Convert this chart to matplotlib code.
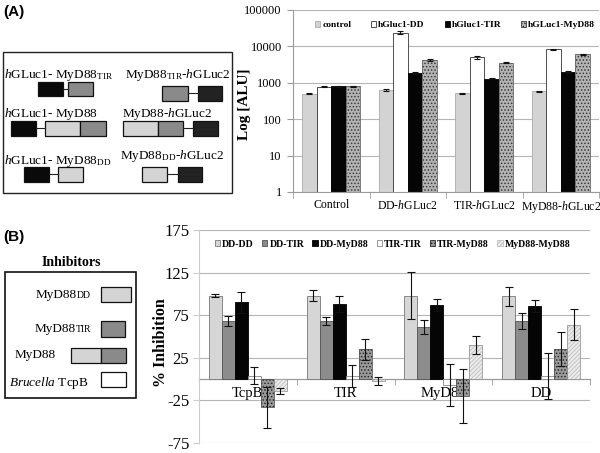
import matplotlib
matplotlib.use('Agg')
import matplotlib.pyplot as plt
import matplotlib.transforms as mtransforms
from matplotlib.patches import Rectangle
from matplotlib.ticker import FixedLocator, NullLocator
import numpy as np

plt.rcParams['mathtext.fontset'] = 'custom'
plt.rcParams['mathtext.rm'] = 'Liberation Serif'
plt.rcParams['mathtext.it'] = 'Liberation Serif:italic'
plt.rcParams['mathtext.bf'] = 'Liberation Serif:bold'
plt.rcParams['hatch.linewidth'] = 0.7

SERIF = 'Liberation Serif'
SANS = 'Liberation Sans'

# ---------------- data: panel A ----------------
a_categories = ['Control', r'DD-$\it{h}$GLuc2', r'TIR-$\it{h}$GLuc2', r'MyD88-$\it{h}$GLuc2']
a_series = ['control', 'hGluc1-DD', 'hGluc1-TIR', 'hGLuc1-MyD88']
a_control = [500, 650, 520, 580]
a_hgluc1_dd = [780, 24000, 5000, 8300]
a_hgluc1_tir = [800, 1900, 1300, 2000]
a_hgluc1_myd88 = [800, 4200, 3600, 6000]
a_control_err = [15, 40, 15, 30]
a_hgluc1_dd_err = [20, 1800, 500, 200]
a_hgluc1_tir_err = [30, 100, 60, 100]
a_hgluc1_myd88_err = [20, 200, 150, 200]
a_yticks = [1, 10, 100, 1000, 10000, 100000]

# ---------------- data: panel B ----------------
b_categories = ['TcpB', 'TIR', 'MyD88', 'DD']
b_series = ['DD-DD', 'DD-TIR', 'DD-MyD88', 'TIR-TIR', 'TIR-MyD88', 'MyD88-MyD88']
b_dd_dd = [98, 98, 98, 97]
b_dd_tir = [68, 68, 61, 68]
b_dd_myd88 = [90, 88, 87, 86]
b_tir_tir = [4, 4, -7, 4]
b_tir_myd88 = [-33, 35, -20, 35]
b_myd88_myd88 = [-14, -2, 40, 64]
b_dd_dd_err = [2, 6, 28, 11]
b_dd_tir_err = [6, 5, 8, 9]
b_dd_myd88_err = [12, 9, 7, 7]
b_tir_tir_err = [10, 13, 25, 27]
b_tir_myd88_err = [24, 12, 32, 20]
b_myd88_myd88_err = [3, 5, 11, 18]
b_yticks = [-75, -25, 25, 75, 125, 175]

W, H = 600, 453
fig = plt.figure(figsize=(W / 100, H / 100), dpi=100)


def rect(l, t, r, b):
    return [l / W, 1 - b / H, (r - l) / W, (b - t) / H]


# overlay for schematics / panel letters
ov = fig.add_axes([0, 0, 1, 1])
ov.set_xlim(0, W)
ov.set_ylim(H, 0)
ov.axis('off')

ov.text(3, 12, '(A)', fontfamily=SANS, fontweight='bold', fontsize=11, va='center', ha='left')
ov.text(3, 237, '(B)', fontfamily=SANS, fontweight='bold', fontsize=11, va='center', ha='left')

C_BLACK = '#0a0a0a'
C_DARK = '#222222'
C_TIR = '#8a8a8a'
C_DD = '#d4d4d4'


def box(x0, x1, y0, y1, fc, lw=0.9):
    ov.add_patch(Rectangle((x0, y0), x1 - x0, y1 - y0, facecolor=fc, edgecolor='#111111', lw=lw))


def link(x0, x1, y):
    ov.plot([x0, x1], [y, y], color='#222222', lw=0.8)


# panel A schematic frame
ov.add_patch(Rectangle((3, 52), 229, 141, facecolor='none', edgecolor='#222222', lw=1.0))
fs_s = 9.5
ov.text(4, 75, r'$\it{h}$GLuc1- MyD88$_{\rm TIR}$', fontfamily=SERIF, fontsize=fs_s, va='center')
box(38, 63, 82, 96, C_BLACK); link(63, 68, 89); box(68, 93, 82, 96, C_TIR)
ov.text(125, 75, r'MyD88$_{\rm TIR}$-$\it{h}$GLuc2', fontfamily=SERIF, fontsize=fs_s, va='center')
box(162, 188, 86, 101, C_TIR); link(188, 198, 93); box(198, 222, 86, 101, C_DARK)
ov.text(4, 114, r'$\it{h}$GLuc1- MyD88', fontfamily=SERIF, fontsize=fs_s, va='center')
box(11, 36, 121, 136, C_BLACK); link(36, 45, 128); box(45, 80, 121, 136, C_DD); box(80, 106, 121, 136, C_TIR)
ov.text(122, 114, r'MyD88-$\it{h}$GLuc2', fontfamily=SERIF, fontsize=fs_s, va='center')
box(123, 158, 121, 136, C_DD); box(158, 183, 121, 136, C_TIR); link(183, 193, 128); box(193, 218, 121, 136, C_DARK)
ov.text(4, 161, r'$\it{h}$GLuc1- MyD88$_{\rm DD}$', fontfamily=SERIF, fontsize=fs_s, va='center')
box(24, 49, 167, 182, C_BLACK); link(49, 58, 174); box(58, 83, 167, 182, C_DD)
ov.text(120, 156, r'MyD88$_{\rm DD}$-$\it{h}$GLuc2', fontfamily=SERIF, fontsize=fs_s, va='center')
box(142, 167, 167, 182, C_DD); link(167, 178, 174); box(178, 202, 167, 182, C_DARK)

# panel B inhibitors box
ov.text(71, 262, 'Inhibitors', fontfamily=SERIF, fontweight='bold', fontsize=10, va='center', ha='center')
ov.add_patch(Rectangle((5, 272), 131, 126, facecolor='none', edgecolor='#111111', lw=1.2))
ov.text(77, 295, 'MyD88', fontfamily=SERIF, fontsize=9.5, va='center', ha='right')
ov.text(77, 296, 'DD', fontfamily=SERIF, fontsize=7, va='center', ha='left')
box(101, 131, 287, 302, C_DD)
ov.text(76, 329, 'MyD88', fontfamily=SERIF, fontsize=9.5, va='center', ha='right')
ov.text(76, 330, 'TIR', fontfamily=SERIF, fontsize=7, va='center', ha='left')
box(101, 125, 321, 337, C_TIR)
ov.text(15, 355, 'MyD88', fontfamily=SERIF, fontsize=9.5, va='center', ha='left')
box(71, 101, 348, 363, C_DD); box(101, 126, 348, 363, C_TIR)
ov.text(9, 383, r'$\it{Brucella}$ TcpB', fontfamily=SERIF, fontsize=9.5, va='center', ha='left')
box(101, 126, 372, 387, 'white')

GRID = '#b5b5b5'
SPINE = '#9a9a9a'


def styled_bars(ax, x, h, w, err, fc, hatch=None, hatch_color=None, edge='#555555', cap=2):
    if hatch:
        ax.bar(x, h, w, facecolor=fc, edgecolor=hatch_color, hatch=hatch, lw=0, zorder=2)
        ax.bar(x, h, w, facecolor='none', edgecolor=edge, lw=0.6, zorder=3)
        handle = Rectangle((0, 0), 1, 1, facecolor=fc, edgecolor=hatch_color, hatch=hatch, lw=0.6)
    else:
        ax.bar(x, h, w, facecolor=fc, edgecolor=edge, lw=0.6, zorder=2)
        handle = Rectangle((0, 0), 1, 1, facecolor=fc, edgecolor=edge, lw=0.6)
    ax.errorbar(x, h, yerr=err, fmt='none', ecolor='#111111', elinewidth=0.8, capsize=cap, capthick=0.8, zorder=4)
    return handle


# ---------------- panel A chart ----------------
axA = fig.add_axes(rect(293, 10, 599, 192))
axA.set_yscale('log')
axA.set_ylim(1, 100000)
axA.set_xlim(-0.5, 3.5)
nA = len(a_categories)
xa = np.arange(nA)
wa = 0.19
a_vals = [a_control, a_hgluc1_dd, a_hgluc1_tir, a_hgluc1_myd88]
a_errs = [a_control_err, a_hgluc1_dd_err, a_hgluc1_tir_err, a_hgluc1_myd88_err]
a_styles = [dict(fc='#d3d3d3', edge='#aaaaaa'),
            dict(fc='white', edge='#333333'),
            dict(fc='#050505', edge='#000000'),
            dict(fc='#b4b4b4', hatch='.....', hatch_color='#3a3a3a', edge='#666666')]
handlesA = []
for j, (v, e, st) in enumerate(zip(a_vals, a_errs, a_styles)):
    handlesA.append(styled_bars(axA, xa + (j - 1.5) * wa, v, wa, e, **st))
axA.yaxis.set_major_locator(FixedLocator(a_yticks))
axA.yaxis.set_minor_locator(NullLocator())
axA.set_yticklabels([str(t) for t in a_yticks], fontfamily=SERIF, fontsize=9)
axA.yaxis.grid(True, color=GRID, lw=0.8)
axA.set_axisbelow(True)
axA.set_xticks(xa)
xlabelsA = axA.set_xticklabels(a_categories, fontfamily=SERIF, fontsize=8.5)
# nudge the last category label slightly left so it stays inside the figure
xlabelsA[-1].set_transform(xlabelsA[-1].get_transform() +
                           mtransforms.ScaledTranslation(-3 / 100, 0, fig.dpi_scale_trans))
axA.xaxis.set_minor_locator(FixedLocator(np.arange(-0.5, nA, 1.0)))
axA.tick_params(axis='x', which='major', length=0, pad=5)
axA.tick_params(axis='x', which='minor', length=4, color=SPINE, direction='out')
axA.tick_params(axis='y', length=4, color=SPINE, pad=4)
for s in ['top', 'right']:
    axA.spines[s].set_visible(False)
for s in ['left', 'bottom']:
    axA.spines[s].set_color(SPINE)
    axA.spines[s].set_linewidth(0.8)
axA.set_ylabel('Log [ALU]', fontfamily=SERIF, fontweight='bold', fontsize=11)
axA.yaxis.set_label_coords(-0.137, 0.48)
legA = axA.legend(handlesA, a_series, loc='center', bbox_to_anchor=(0.53, 0.917), ncol=4,
                  frameon=False, handlelength=0.55, handleheight=0.55, handletextpad=0.2,
                  columnspacing=2.1, prop=dict(family=SERIF, weight='bold', size=6.8))

# ---------------- panel B chart ----------------
axB = fig.add_axes(rect(199, 230, 590, 443))
axB.set_ylim(-75, 175)
nB = len(b_categories)
axB.set_xlim(-0.5, nB - 0.5)
xb = np.arange(nB)
wb = 0.133
b_vals = [b_dd_dd, b_dd_tir, b_dd_myd88, b_tir_tir, b_tir_myd88, b_myd88_myd88]
b_errs = [b_dd_dd_err, b_dd_tir_err, b_dd_myd88_err, b_tir_tir_err, b_tir_myd88_err, b_myd88_myd88_err]
b_styles = [dict(fc='#d6d6d6', edge='#777777'),
            dict(fc='#8c8c8c', edge='#555555'),
            dict(fc='#050505', edge='#000000'),
            dict(fc='white', edge='#888888'),
            dict(fc='#9a9a9a', hatch='.....', hatch_color='#2a2a2a', edge='#555555'),
            dict(fc='#ececec', hatch='////////', hatch_color='#c4c4c4', edge='#999999')]
handlesB = []
for j, (v, e, st) in enumerate(zip(b_vals, b_errs, b_styles)):
    handlesB.append(styled_bars(axB, xb + (j - 2.5) * wb, v, wb, e, cap=3, **st))
axB.set_yticks(b_yticks)
axB.set_yticklabels([str(t) for t in b_yticks], fontfamily=SERIF, fontsize=12)
axB.yaxis.grid(True, color=GRID, lw=0.8)
axB.set_axisbelow(True)
axB.spines['bottom'].set_position(('data', 0))
axB.spines['bottom'].set_color(SPINE)
axB.spines['bottom'].set_linewidth(0.9)
axB.spines['bottom'].set_zorder(1)
for s in ['top', 'right']:
    axB.spines[s].set_visible(False)
axB.spines['left'].set_color('#cccccc')
axB.spines['left'].set_linewidth(0.8)
axB.set_xticks(xb)
axB.set_xticklabels(b_categories, fontfamily=SERIF, fontsize=10.5)
axB.xaxis.set_minor_locator(FixedLocator(np.arange(-0.5, nB, 1.0)))
axB.tick_params(axis='x', which='major', length=0, pad=6)
axB.tick_params(axis='x', which='minor', length=4, color=SPINE)
axB.tick_params(axis='y', length=4, color='#cccccc', pad=3)
axB.set_ylabel('% Inhibition', fontfamily=SERIF, fontweight='bold', fontsize=11.5)
axB.yaxis.set_label_coords(-0.077, 0.47)
legB = axB.legend(handlesB, b_series, loc='center', bbox_to_anchor=(0.495, 0.934), ncol=6,
                  frameon=False, handlelength=0.55, handleheight=0.55, handletextpad=0.2,
                  columnspacing=0.85, prop=dict(family=SERIF, weight='bold', size=7))

fig.savefig('out.png', dpi=100)
